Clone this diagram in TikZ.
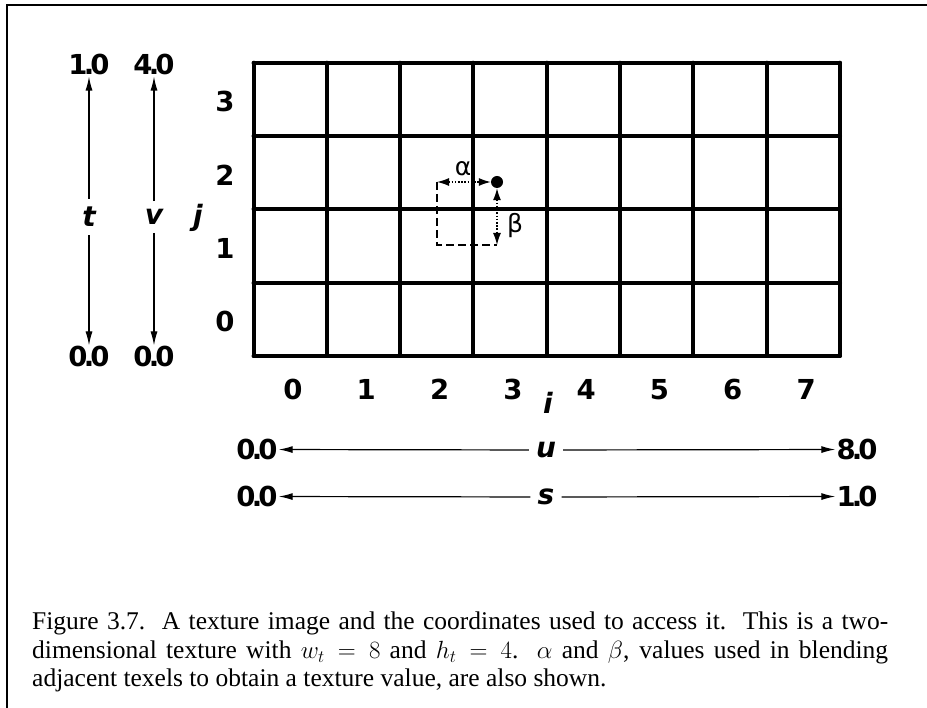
\documentclass[tikz,border=0pt]{standalone}
\usepackage{fontspec}
\setmainfont{Liberation Serif}
\newfontfamily\lblfont[LetterSpace=-14]{DejaVu Sans}
\newfontfamily\grkfont{DejaVu Sans}
\usetikzlibrary{arrows.meta}
\begin{document}
\begin{tikzpicture}[x=1pt,y=-1pt,
  lab/.style={font=\lblfont\bfseries\fontsize{27.5}{27.5}\selectfont, inner sep=1pt, anchor=base},
  ilab/.style={font=\lblfont\bfseries\itshape\fontsize{28}{28}\selectfont, inner sep=2pt},
  axlab/.style={ilab, inner xsep=7pt, inner ysep=8pt},
  glab/.style={font=\grkfont\fontsize{25}{25}\selectfont, inner sep=1pt},
  axisarrow/.style={line width=1.2pt, -{Latex[length=14pt,width=7pt]}},
  dotarrow/.style={line width=1.3pt, dash pattern=on 1.6pt off 1.6pt, {Latex[length=12pt,width=8pt]}-{Latex[length=12pt,width=8pt]}},
  dashline/.style={line width=1.2pt, dash pattern=on 8pt off 4pt},
  gridline/.style={line width=4pt, line join=round, line cap=round},
  frameline/.style={line width=1.2pt}]
\useasboundingbox (0,0) rectangle (927,708);
% frame
\coordinate (f1) at (7,708);
\coordinate (f2) at (7,5);
\coordinate (f3) at (927,5);
\draw[frameline] (f1) -- (f2) -- (f3);
% grid
\foreach \k in {0,...,8} {
  \draw[gridline] ({253.5+73.3*\k},62.7) -- ({253.5+73.3*\k},356);
}
\foreach \k in {0,...,4} {
  \draw[gridline] (253.5,{62.7+73.3*\k}) -- (840,{62.7+73.3*\k});
}
% column labels
\foreach \k in {0,...,7} {
  \node[lab] (c\k) at ({293+73.3*\k},400) {\k};
}
% row labels
\foreach \k in {0,...,3} {
  \node[lab] (r\k) at (225,{112+73.3*(3-\k)}) {\k};
}
\node[ilab] (jl) at (198,218) {j};
\node[ilab] (il) at (548,403) {i};
% t axis
\node[lab] (ttop) at (89,75) {1.0};
\node[axlab] (tl) at (89,217) {t};
\node[lab] (tbot) at (89,367) {0.0};
\draw[axisarrow] (tl) -- (ttop);
\draw[axisarrow] (tl) -- (tbot);
% v axis
\node[lab] (vtop) at (154,75) {4.0};
\node[axlab] (vl) at (154,217) {v};
\node[lab] (vbot) at (154,367) {0.0};
\draw[axisarrow] (vl) -- (vtop);
\draw[axisarrow] (vl) -- (vbot);
% u axis
\node[lab] (uleft) at (257,459.5) {0.0};
\node[axlab] (ul) at (546,450) {u};
\node[lab] (uright) at (857,459.5) {8.0};
\draw[axisarrow] (ul) -- (uleft);
\draw[axisarrow] (ul) -- (uright);
% s axis
\node[lab] (sleft) at (257,506.5) {0.0};
\node[axlab] (sl) at (546,497) {s};
\node[lab] (sright) at (857,506.5) {1.0};
\draw[axisarrow] (sl) -- (sleft);
\draw[axisarrow] (sl) -- (sright);
% sample point
\node[circle, fill=black, inner sep=0pt, minimum size=12pt] (pt) at (497,182) {};
\coordinate (a0) at (437,182);
\coordinate (c0) at (437,245);
\coordinate (b0) at (497,245);
\draw[dashline] (a0) -- (c0) -- (b0);
\draw[dotarrow] (a0) -- (pt.west);
\draw[dotarrow] (pt.south) -- (b0);
\node[glab] (alpha) at (463,169) {α};
\node[glab] (beta) at (515,226) {β};
% caption
\node[anchor=north west, text width=856pt, align=justify, inner sep=0pt,
      font=\fontsize{25.5}{28.5}\selectfont] (cap) at (32,612)
  {Figure 3.7.\ \ A texture image and the coordinates used to access it.\ \ This is a two-\linebreak dimensional texture with $w_t = 8$ and $h_t = 4$.\ \ $\alpha$ and $\beta$, values used in blending\linebreak adjacent texels to obtain a texture value, are also shown.};
\end{tikzpicture}
\end{document}
